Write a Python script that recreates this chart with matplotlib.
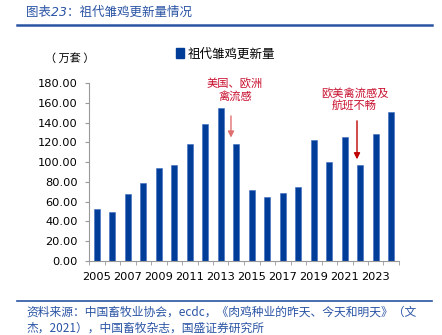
import numpy as np
import matplotlib
matplotlib.use("Agg")
import matplotlib.pyplot as plt
from matplotlib.patches import Patch

plt.rcParams['font.family'] = ['DejaVu Sans', 'Noto Sans CJK SC']
cjk = ['Noto Sans CJK SC', 'DejaVu Sans']

years = list(range(2005, 2025))
# 祖代雏鸡更新量（万套）
values = [52.2, 49.2, 68.0, 78.4, 93.6, 96.9, 118.0, 138.3, 154.4, 118.0,
          72.0, 65.0, 68.6, 74.7, 122.8, 100.6, 125.2, 96.6, 128.2, 150.4]
label_years = [2005, 2007, 2009, 2011, 2013, 2015, 2017, 2019, 2021, 2023]
y_ticks = [0, 20, 40, 60, 80, 100, 120, 140, 160, 180]

blue = '#003d99'
red = '#c8102e'
head_blue = '#2a54a4'

fig = plt.figure(figsize=(4.42, 3.35), dpi=100)
ax = fig.add_axes([89/442, 74/335, 310/442, 178/335])

x = np.arange(len(years))
ax.bar(x, values, width=0.4, color=blue, edgecolor='#3d6cc0', linewidth=0.4)

ax.set_xlim(-0.5, len(years) - 0.5)
ax.set_ylim(0, 180)
ax.set_yticks(y_ticks)
ax.set_yticklabels(['%.2f' % v for v in y_ticks], fontsize=8.2)
ax.set_xticks([years.index(y) for y in label_years])
ax.set_xticklabels([str(y) for y in label_years], fontsize=8.2)
ax.set_xticks(np.arange(-0.5, len(years), 1), minor=True)
ax.tick_params(axis='x', which='major', length=0, pad=8)
ax.tick_params(axis='x', which='minor', length=3, color='#999999', direction='out')
ax.tick_params(axis='y', length=3, color='#999999', pad=5)
for s in ['top', 'right']:
    ax.spines[s].set_visible(False)
for s in ['left', 'bottom']:
    ax.spines[s].set_color('#999999')
    ax.spines[s].set_linewidth(0.8)

# 注释
ax.annotate('', xy=(8.66, 122), xytext=(8.66, 149.5),
            arrowprops=dict(arrowstyle='-|>', color='#e07070', lw=1.0,
                            mutation_scale=9), annotation_clip=False)
ax.text(8.92, 173.5, '美国、欧洲\n禽流感', color=red, fontsize=8.1, family=cjk,
        ha='center', va='center', linespacing=1.3, clip_on=False)
ax.annotate('', xy=(16.79, 100), xytext=(16.79, 144.5),
            arrowprops=dict(arrowstyle='-|>', color='#c00000', lw=1.0,
                            mutation_scale=9), annotation_clip=False)
ax.text(16.63, 163, '欧美禽流感及\n航班不畅', color=red, fontsize=8.1, family=cjk,
        ha='center', va='center', linespacing=1.3, clip_on=False)

# 图例和单位
fig.legend(handles=[Patch(color=blue)], labels=['祖代雏鸡更新量'],
           loc='center left', bbox_to_anchor=(176/442, 1 - 54/335),
           frameon=False, prop={'family': cjk, 'size': 9},
           handlelength=0.6, handleheight=0.8,
           handletextpad=0.35, borderpad=0, borderaxespad=0)
fig.text(45/442, 1 - 58/335, '（ 万套 ）', fontsize=8, family=cjk,
         ha='left', va='center')

# 标题和资料来源
fig.text(26/442, 1 - 12/335, '图表23：祖代雏鸡更新量情况', fontsize=9,
         color=head_blue, style='italic', ha='left', va='center')
fig.add_artist(plt.Line2D([17/442, 432/442], [1 - 25/335, 1 - 25/335],
                          color=head_blue, lw=1.8))
fig.add_artist(plt.Line2D([17/442, 432/442], [1 - 301/335, 1 - 301/335],
                          color=head_blue, lw=1.2))
fig.text(26/442, 1 - 312/335,
         '资料来源：中国畜牧业协会，ecdc，《肉鸡种业的昨天、今天和明天》（文',
         fontsize=8.5, family=cjk, color=head_blue, ha='left', va='center')
fig.text(26/442, 1 - 328/335,
         '杰，2021），中国畜牧杂志，国盛证券研究所',
         fontsize=8.5, family=cjk, color=head_blue, ha='left', va='center')

fig.savefig('out.png', dpi=100)
